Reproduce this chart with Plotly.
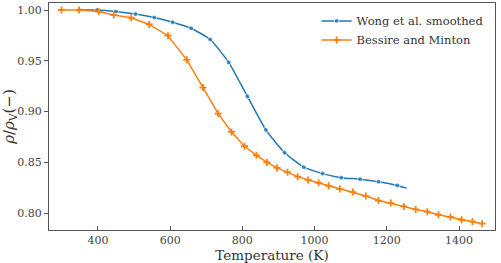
import plotly.graph_objects as go

# Wong et al. smoothed
wong_T = [348, 398, 450, 504, 556, 607, 658, 711, 762, 814, 865, 917, 970, 1022, 1074, 1126, 1177, 1229, 1255]
wong_rho = [1.000, 1.000, 0.9985, 0.996, 0.9926, 0.988, 0.982, 0.971, 0.9485, 0.915, 0.882, 0.8596, 0.8453, 0.839, 0.835, 0.8335, 0.831, 0.8273, 0.8247]
wong_marked = [True] * 18 + [False]

# Bessire and Minton
bm_T = [299, 348, 402, 444, 492, 542, 594, 646, 691, 733, 770, 806, 839, 868, 896, 925, 953, 982,
        1011, 1039, 1070, 1106, 1142, 1177, 1211, 1247, 1280, 1312, 1343, 1376, 1407, 1437, 1464]
bm_rho = [1.000, 1.000, 0.9985, 0.995, 0.9924, 0.9858, 0.9747, 0.951, 0.9237, 0.898, 0.880, 0.8659,
          0.857, 0.850, 0.8446, 0.8404, 0.836, 0.8328, 0.8299, 0.827, 0.8238, 0.8208, 0.8169, 0.8125,
          0.810, 0.8067, 0.8037, 0.8015, 0.7985, 0.7963, 0.7936, 0.7917, 0.7897]

x_ticks = [400, 600, 800, 1000, 1200, 1400]
y_ticks = [0.80, 0.85, 0.90, 0.95, 1.00]
y_tick_text = ["0.80", "0.85", "0.90", "0.95", "1.00"]

FONT = "DejaVu Serif"
BLUE = "#1f77b4"
ORANGE = "#ff7f0e"
AX = "#555555"

fig = go.Figure()
fig.add_trace(go.Scatter(
    x=wong_T, y=wong_rho, mode="lines+markers", name="Wong et al. smoothed",
    line=dict(color=BLUE, width=1.5, shape="spline", smoothing=0.5),
    marker=dict(color=BLUE, symbol="circle", size=[5 if m else 0 for m in wong_marked]),
))
fig.add_trace(go.Scatter(
    x=bm_T, y=bm_rho, mode="lines+markers", name="Bessire and Minton",
    line=dict(color=ORANGE, width=1.5),
    marker=dict(color=ORANGE, symbol="cross-thin", size=5, line=dict(color=ORANGE, width=1.8)),
))

axis_common = dict(
    showline=True, linecolor=AX, linewidth=1.2, mirror=True,
    showgrid=False, zeroline=False,
    ticklen=4, tickwidth=1, tickcolor=AX,
    tickfont=dict(family=FONT, size=11, color="#444444"),
)
fig.update_xaxes(range=[264.5, 1499.6], tickvals=x_ticks, ticks="inside", **axis_common,
                 title=dict(text="Temperature (K)", font=dict(family=FONT, size=13.5, color="#333333"), standoff=1))
fig.update_yaxes(range=[0.7835, 1.0069], tickvals=y_ticks, ticktext=y_tick_text, ticks="outside", **axis_common,
                 title=dict(text="<i>ρ</i>/<i>ρ</i><sub>V</sub>(−)", font=dict(family=FONT, size=15, color="#333333"), standoff=3))

fig.update_layout(
    width=501, height=263,
    margin=dict(l=49, r=6, t=3, b=33),
    paper_bgcolor="white", plot_bgcolor="white",
    font=dict(family=FONT, color="#333333"),
    legend=dict(x=0.6, y=0.985, xanchor="left", yanchor="top", bgcolor="rgba(255,255,255,0.8)",
                font=dict(family=FONT, size=11.5, color="#333333"), itemwidth=30, tracegroupgap=0),
    showlegend=True,
)

fig.write_html("out.html")
